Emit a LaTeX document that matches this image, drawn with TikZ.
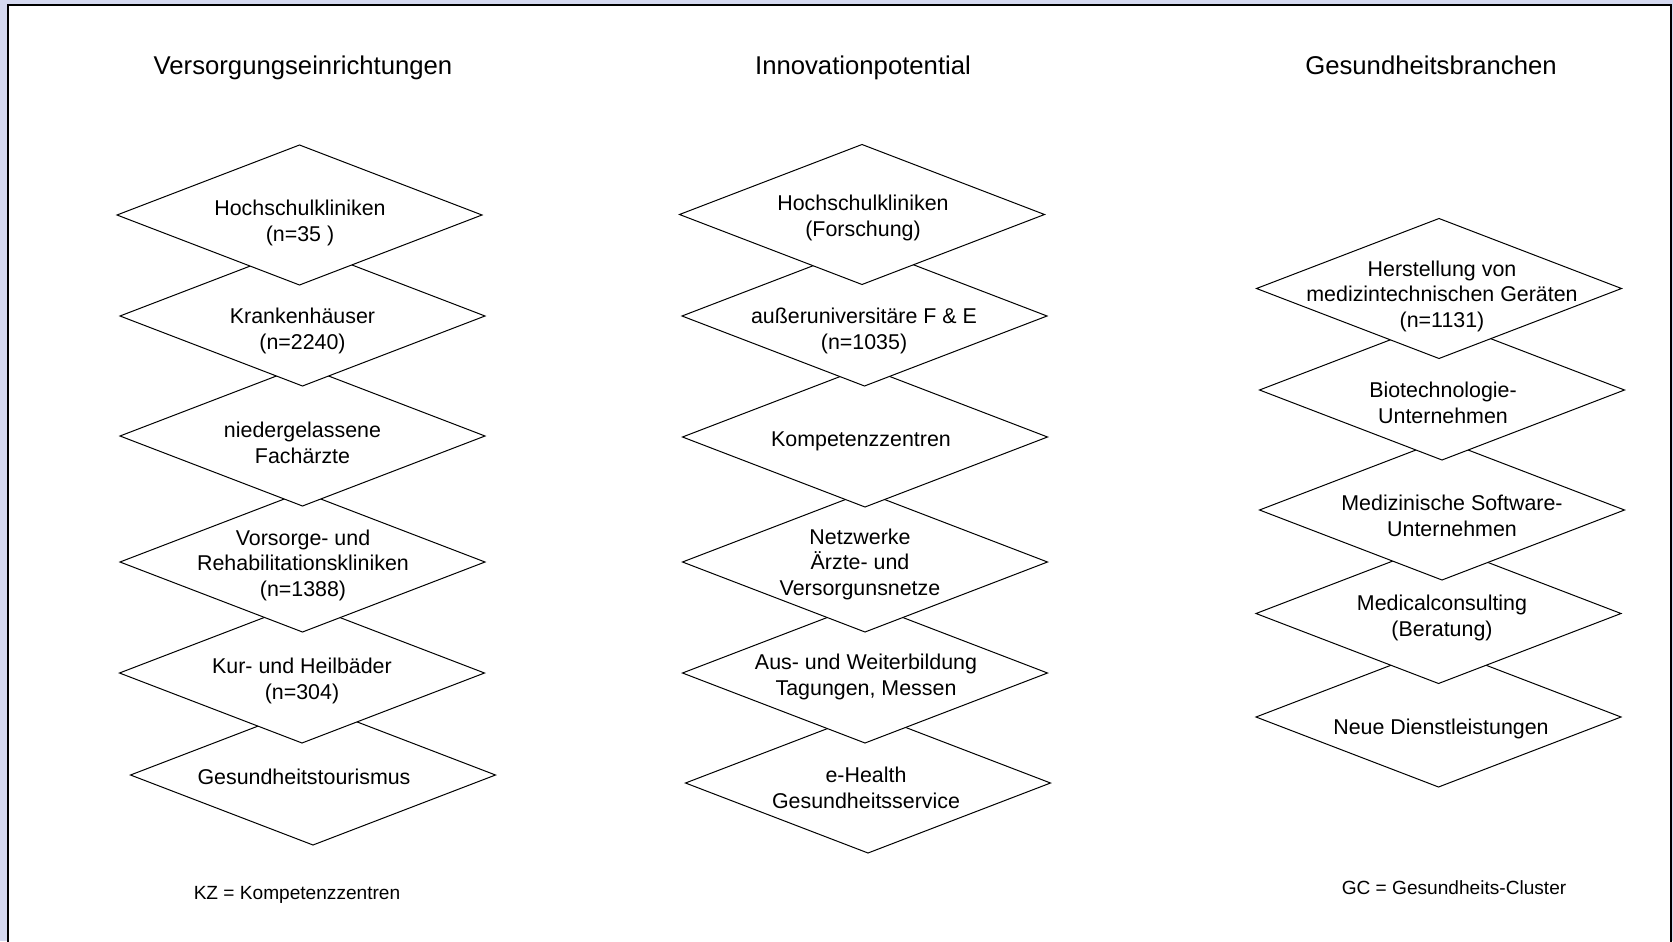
\documentclass[tikz,border=0pt]{standalone}
\usepackage{fontspec}
\setmainfont{Liberation Sans}
\usetikzlibrary{shapes.geometric}
\definecolor{bgc}{HTML}{D5D9F0}
\tikzset{
  dia/.style={draw=black, fill=white, line width=0.5pt, shape=diamond, minimum width=182.5pt, minimum height=70pt, inner sep=0pt, outer sep=0pt},
  lbl/.style={align=center, inner sep=0pt, font=\fontsize{10.7}{12.75}\selectfont},
  ttl/.style={inner sep=0pt, anchor=base, font=\fontsize{12.85}{15}\selectfont},
  note/.style={inner sep=0pt, font=\fontsize{9.55}{11}\selectfont}
}
\begin{document}
\begin{tikzpicture}[x=0.5pt,y=-0.5pt]
\useasboundingbox (0,0) rectangle (1673,941);
\clip (0,0) rectangle (1673,941);
\fill[bgc] (0,0) rectangle (1673,941);
\draw[line width=1pt, fill=white] (8,5.5) rectangle (1670.5,960);

% titles
\node[ttl] (t1) at (303,75) {Versorgungseinrichtungen};
\node[ttl] (t2) at (863,75) {Innovationpotential};
\node[ttl] (t3) at (1431,75) {Gesundheitsbranchen};

% column 1 (drawn bottom to top so upper diamonds lie on top)
\node[dia] (a6) at (313,775) {};
\node[dia] (a5) at (302,673) {};
\node[dia] (a4) at (302.5,562) {};
\node[dia] (a3) at (302.5,436) {};
\node[dia] (a2) at (302.5,316) {};
\node[dia] (a1) at (299.5,215) {};
\node[lbl] (la1) at (300,223) {Hochschulkliniken\\(n=35 )};
\node[lbl] (la2) at (302.5,331) {Krankenhäuser\\(n=2240)};
\node[lbl] (la3) at (302.5,443) {niedergelassene\\Fachärzte};
\node[lbl] (la4) at (303,565) {Vorsorge- und\\Rehabilitationskliniken\\(n=1388)};
\node[lbl] (la5) at (302,681) {Kur- und Heilbäder\\(n=304)};
\node[lbl] (la6) at (304,777) {Gesundheitstourismus};

% column 2
\node[dia] (b6) at (868,783) {};
\node[dia] (b5) at (865,673) {};
\node[dia] (b4) at (865,562) {};
\node[dia] (b3) at (865,437) {};
\node[dia] (b2) at (864.5,316) {};
\node[dia] (b1) at (862,214.5) {};
\node[lbl] (lb1) at (863,218) {Hochschulkliniken\\(Forschung)};
\node[lbl] (lb2) at (864,331) {außeruniversitäre F \& E\\(n=1035)};
\node[lbl] (lb3) at (861,441) {Kompetenzzentren};
\node[lbl] (lb4) at (860,564) {Netzwerke\\Ärzte- und\\Versorgunsnetze};
\node[lbl] (lb5) at (866,677) {Aus- und Weiterbildung\\Tagungen, Messen};
\node[lbl] (lb6) at (866,788) {e-Health\\Gesundheitsservice};

% column 3
\node[dia] (c5) at (1438.5,717) {};
\node[dia] (c4) at (1438.5,613.5) {};
\node[dia] (c3) at (1442,510) {};
\node[dia] (c2) at (1442,390) {};
\node[dia] (c1) at (1439,288.5) {};
\node[lbl] (lc1) at (1442,296) {Herstellung von\\medizintechnischen Geräten\\(n=1131)};
\node[lbl] (lc2) at (1443,403) {Biotechnologie-\\Unternehmen};
\node[lbl] (lc3) at (1452,516) {Medizinische Software-\\Unternehmen};
\node[lbl] (lc4) at (1442,618) {Medicalconsulting\\(Beratung)};
\node[lbl] (lc5) at (1441,729) {Neue Dienstleistungen};

% notes
\node[note] (n1) at (297,895) {KZ = Kompetenzzentren};
\node[note] (n2) at (1454,888) {GC = Gesundheits-Cluster};
\end{tikzpicture}
\end{document}
